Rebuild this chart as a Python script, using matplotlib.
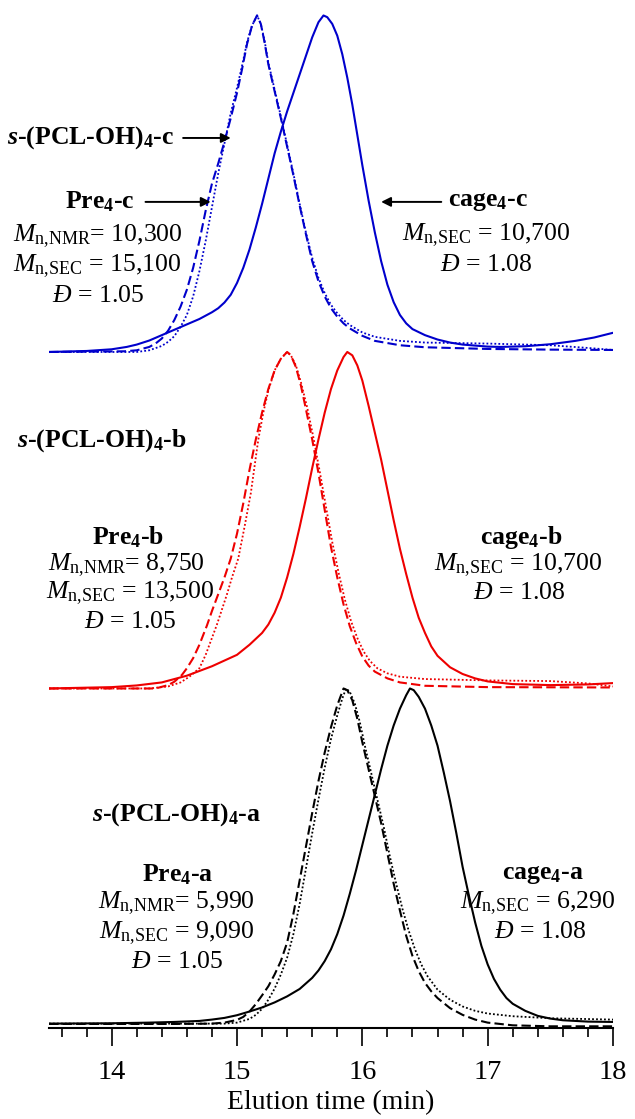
import matplotlib
matplotlib.use("Agg")
import matplotlib.pyplot as plt
from matplotlib.ticker import MultipleLocator

plt.rcParams['font.family'] = ['Liberation Serif', 'DejaVu Serif']
plt.rcParams['mathtext.fontset'] = 'custom'
plt.rcParams['mathtext.rm'] = 'Liberation Serif'
plt.rcParams['mathtext.it'] = 'Liberation Serif:italic'
plt.rcParams['mathtext.bf'] = 'Liberation Serif:bold'
plt.rcParams['mathtext.bfit'] = 'Liberation Serif:italic:bold'

# ---- trace a (black), baseline 0 ----
t_a_cage = [13.5, 14.0, 14.3, 14.5, 14.7, 14.8, 14.9, 15.0, 15.1, 15.2, 15.3, 15.4, 15.5, 15.6,
            15.65, 15.7, 15.75, 15.8, 15.85, 15.9, 15.95, 16.0, 16.05, 16.1, 16.15, 16.2, 16.25,
            16.3, 16.35, 16.38, 16.41, 16.45, 16.5, 16.55, 16.6, 16.65, 16.7, 16.75, 16.8, 16.85,
            16.9, 16.95, 17.0, 17.05, 17.1, 17.15, 17.2, 17.3, 17.4, 17.5, 17.6, 17.8, 18.0]
i_a_cage = [0.004, 0.005, 0.007, 0.009, 0.012, 0.016, 0.021, 0.029, 0.040, 0.052, 0.067, 0.085,
            0.107, 0.140, 0.162, 0.19, 0.225, 0.27, 0.325, 0.39, 0.46, 0.535, 0.61, 0.685, 0.76,
            0.83, 0.89, 0.94, 0.98, 1.0, 0.995, 0.975, 0.94, 0.89, 0.83, 0.75, 0.665, 0.57, 0.47,
            0.385, 0.305, 0.235, 0.18, 0.137, 0.105, 0.08, 0.063, 0.042, 0.027, 0.019, 0.014,
            0.010, 0.009]
t_a_star = [13.5, 14.5, 14.8, 14.9, 15.0, 15.05, 15.1, 15.15, 15.2, 15.25, 15.3, 15.35, 15.4,
            15.45, 15.5, 15.55, 15.6, 15.65, 15.7, 15.75, 15.8, 15.85, 15.88, 15.92, 15.96, 16.0,
            16.05, 16.1, 16.15, 16.2, 16.25, 16.3, 16.35, 16.4, 16.45, 16.5, 16.55, 16.6, 16.7,
            16.8, 16.9, 17.0, 17.2, 17.5, 18.0]
i_a_star = [0.003, 0.003, 0.004, 0.007, 0.015, 0.024, 0.040, 0.062, 0.088, 0.115, 0.15, 0.19,
            0.245, 0.33, 0.43, 0.53, 0.63, 0.725, 0.81, 0.885, 0.95, 1.0, 0.995, 0.965, 0.91,
            0.84, 0.76, 0.68, 0.60, 0.51, 0.42, 0.34, 0.265, 0.205, 0.16, 0.125, 0.10, 0.08,
            0.05, 0.03, 0.016, 0.007, -0.001, -0.004, -0.004]
t_a_pre = [13.5, 14.9, 15.0, 15.1, 15.15, 15.2, 15.25, 15.3, 15.35, 15.4, 15.45, 15.5, 15.55,
           15.6, 15.65, 15.7, 15.75, 15.8, 15.84, 15.87, 15.9, 15.94, 15.98, 16.02, 16.07, 16.12,
           16.17, 16.22, 16.27, 16.32, 16.37, 16.42, 16.47, 16.52, 16.6, 16.7, 16.8, 16.9, 17.0,
           17.2, 17.5, 18.0]
i_a_pre = [0.004, 0.004, 0.007, 0.018, 0.03, 0.048, 0.075, 0.108, 0.15, 0.2, 0.27, 0.36, 0.465,
           0.57, 0.67, 0.765, 0.85, 0.92, 0.97, 1.0, 0.99, 0.955, 0.9, 0.83, 0.75, 0.67, 0.59,
           0.5, 0.42, 0.345, 0.28, 0.225, 0.18, 0.145, 0.105, 0.075, 0.055, 0.042, 0.034,
           0.026, 0.02, 0.016]

# ---- trace b (red), baseline 1 ----
t_b_cage = [13.5, 14.0, 14.2, 14.4, 14.6, 14.8, 14.9, 15.0, 15.1, 15.2, 15.25, 15.3, 15.35,
            15.4, 15.45, 15.5, 15.55, 15.6, 15.65, 15.7, 15.75, 15.8, 15.85, 15.88, 15.92, 15.96,
            16.0, 16.05, 16.1, 16.15, 16.2, 16.25, 16.3, 16.35, 16.4, 16.45, 16.5, 16.55, 16.6,
            16.7, 16.8, 16.9, 17.0, 17.2, 17.5, 17.8, 18.0]
i_b_cage = [0.0, 0.004, 0.009, 0.018, 0.038, 0.066, 0.083, 0.10, 0.13, 0.165, 0.19, 0.225,
            0.27, 0.33, 0.40, 0.48, 0.565, 0.655, 0.74, 0.82, 0.89, 0.945, 0.985, 1.0, 0.99,
            0.96, 0.915, 0.84, 0.76, 0.68, 0.59, 0.50, 0.415, 0.34, 0.27, 0.21, 0.165, 0.125,
            0.097, 0.063, 0.043, 0.03, 0.021, 0.013, 0.01, 0.012, 0.016]
t_b_star = [13.5, 14.35, 14.45, 14.5, 14.56, 14.6, 14.65, 14.7, 14.76, 14.8, 14.85, 14.9, 14.95,
            15.0, 15.05, 15.1, 15.15, 15.2, 15.25, 15.3, 15.35, 15.4, 15.43, 15.47, 15.51, 15.55,
            15.6, 15.65, 15.7, 15.75, 15.8, 15.85, 15.9, 15.95, 16.0, 16.05, 16.1, 16.2, 16.3,
            16.5, 17.0, 18.0]
i_b_star = [0.0, 0.0, 0.01, 0.02, 0.04, 0.06, 0.09, 0.13, 0.187, 0.23, 0.28, 0.33, 0.386, 0.46,
            0.55, 0.65, 0.74, 0.82, 0.89, 0.945, 0.98, 1.0, 0.99, 0.955, 0.9, 0.83, 0.74, 0.64,
            0.53, 0.42, 0.33, 0.25, 0.185, 0.135, 0.095, 0.068, 0.05, 0.03, 0.018, 0.008, 0.004,
            0.003]
t_b_pre = [13.5, 14.3, 14.45, 14.55, 14.62, 14.7, 14.75, 14.8, 14.84, 14.88, 14.92, 14.96,
           15.01, 15.06, 15.11, 15.17, 15.21, 15.25, 15.3, 15.35, 15.4, 15.43, 15.47, 15.51,
           15.56, 15.61, 15.66, 15.71, 15.76, 15.81, 15.86, 15.91, 15.96, 16.01, 16.06, 16.12,
           16.2, 16.3, 16.5, 17.0, 17.5, 17.8, 18.0]
i_b_pre = [0.0, 0.0, 0.006, 0.018, 0.035, 0.06, 0.10, 0.15, 0.19, 0.235, 0.28, 0.33, 0.386,
           0.48, 0.58, 0.74, 0.82, 0.885, 0.945, 0.98, 1.0, 0.99, 0.96, 0.91, 0.835, 0.745,
           0.645, 0.54, 0.435, 0.345, 0.265, 0.20, 0.15, 0.11, 0.082, 0.06, 0.045, 0.035, 0.028,
           0.024, 0.022, 0.015, 0.006]

# ---- trace c (blue), baseline 2 ----
t_c_cage = [13.5, 13.8, 14.0, 14.12, 14.2, 14.3, 14.4, 14.5, 14.6, 14.7, 14.8, 14.85, 14.9,
            14.95, 15.0, 15.05, 15.1, 15.15, 15.2, 15.25, 15.3, 15.35, 15.4, 15.45, 15.5, 15.55,
            15.6, 15.65, 15.69, 15.72, 15.76, 15.8, 15.84, 15.88, 15.92, 15.96, 16.0, 16.05,
            16.1, 16.15, 16.2, 16.25, 16.3, 16.35, 16.4, 16.5, 16.6, 16.7, 16.8, 17.0, 17.1,
            17.3, 17.5, 17.7, 17.85, 18.0]
i_c_cage = [0.0, 0.003, 0.008, 0.015, 0.022, 0.034, 0.05, 0.066, 0.082, 0.098, 0.118, 0.13,
            0.147, 0.17, 0.205, 0.25, 0.305, 0.37, 0.44, 0.515, 0.59, 0.655, 0.715, 0.77, 0.825,
            0.88, 0.935, 0.98, 1.0, 0.995, 0.975, 0.94, 0.885, 0.815, 0.735, 0.645, 0.555, 0.45,
            0.355, 0.27, 0.20, 0.148, 0.11, 0.085, 0.068, 0.05, 0.037, 0.028, 0.022, 0.016,
            0.015, 0.017, 0.023, 0.033, 0.043, 0.057]
t_c_star = [13.5, 14.1, 14.2, 14.3, 14.35, 14.4, 14.45, 14.5, 14.55, 14.6, 14.65, 14.7, 14.75,
            14.8, 14.85, 14.9, 14.95, 15.0, 15.04, 15.08, 15.12, 15.16, 15.19, 15.22, 15.25,
            15.3, 15.35, 15.4, 15.45, 15.5, 15.55, 15.6, 15.65, 15.7, 15.75, 15.8, 15.85, 15.9,
            16.0, 16.1, 16.3, 16.5, 17.0, 17.5, 18.0]
i_c_star = [0.0, 0.002, 0.005, 0.015, 0.025, 0.04, 0.063, 0.095, 0.135, 0.185, 0.25, 0.33,
            0.42, 0.50, 0.56, 0.625, 0.695, 0.77, 0.84, 0.915, 0.97, 1.0, 0.975, 0.92, 0.855,
            0.775, 0.695, 0.61, 0.525, 0.435, 0.35, 0.27, 0.21, 0.165, 0.13, 0.105, 0.085, 0.07,
            0.048, 0.033, 0.02, 0.014, 0.009, 0.007, 0.006]
t_c_pre = [13.5, 14.2, 14.3, 14.4, 14.45, 14.5, 14.55, 14.6, 14.65, 14.7, 14.75, 14.8, 14.85,
           14.9, 14.95, 15.0, 15.04, 15.08, 15.12, 15.16, 15.19, 15.22, 15.25, 15.3, 15.35,
           15.4, 15.45, 15.5, 15.55, 15.6, 15.65, 15.7, 15.75, 15.8, 15.85, 15.9, 16.0, 16.1,
           16.3, 16.5, 17.0, 17.5, 17.8, 18.0]
i_c_pre = [0.0, 0.0, 0.005, 0.018, 0.03, 0.047, 0.075, 0.11, 0.165, 0.24, 0.33, 0.43, 0.53,
           0.62, 0.71, 0.785, 0.85, 0.92, 0.97, 1.0, 0.975, 0.925, 0.86, 0.78, 0.70, 0.615,
           0.53, 0.44, 0.355, 0.28, 0.22, 0.175, 0.14, 0.115, 0.095, 0.08, 0.058, 0.045, 0.033,
           0.028, 0.025, 0.02, 0.012, 0.006]

BLUE = '#0000cc'
RED = '#ee0000'
BLACK = '#000000'

fig = plt.figure(figsize=(6.35, 11.19), dpi=100)
ax = fig.add_axes([49 / 635, 91 / 1119, 564 / 635, 1028 / 1119])

traces = [
    (2, BLUE, t_c_cage, i_c_cage, t_c_star, i_c_star, t_c_pre, i_c_pre),
    (1, RED, t_b_cage, i_b_cage, t_b_star, i_b_star, t_b_pre, i_b_pre),
    (0, BLACK, t_a_cage, i_a_cage, t_a_star, i_a_star, t_a_pre, i_a_pre),
]
for off, col, tc, ic, ts, is_, tp, ip in traces:
    ax.plot(tc, [v + off for v in ic], color=col, lw=1.5, solid_joinstyle='round')
    ax.plot(ts, [v + off for v in is_], color=col, lw=1.5, linestyle=(0, (4.5, 2)))
    ax.plot(tp, [v + off for v in ip], color=col, lw=1.3, linestyle=(0, (1, 1.2)))

ax.set_xlim(13.5, 18.0)
ax.set_ylim(-0.009, 3.046)
for s in ['left', 'right', 'top']:
    ax.spines[s].set_visible(False)
ax.spines['bottom'].set_linewidth(1.5)
ax.set_yticks([])
ax.xaxis.set_major_locator(MultipleLocator(1))
ax.xaxis.set_minor_locator(MultipleLocator(0.2))
ax.tick_params(axis='x', which='major', length=13, width=1.2, labelsize=20.5, pad=10)
ax.tick_params(axis='x', which='minor', length=6.5, width=1.2)
ax.set_xlabel('Elution time (min)', fontsize=20, labelpad=4)

fs = 18.5
bold = dict(fontsize=fs, fontweight='bold', ha='center', va='center', clip_on=False)
norm = dict(fontsize=fs, ha='center', va='center', clip_on=False)
arrow = dict(arrowstyle='-|>', color='black', lw=1.4, mutation_scale=14, shrinkA=0, shrinkB=0)

NMR = r'$M_{\text{n,NMR}}$'
SEC = r'$M_{\text{n,SEC}}$'
DISP = r'$\mathit{Đ}$'

# blue labels
ax.text(13.83, 2.636, r'$\mathbfit{s}$-(PCL-OH)$_{\mathbf{4}}$-c', **bold)
ax.annotate('', xy=(14.95, 2.636), xytext=(14.57, 2.636), arrowprops=arrow)
ax.text(13.91, 2.446, r'Pre$_{\mathbf{4}}$-c', **bold)
ax.annotate('', xy=(14.79, 2.446), xytext=(14.27, 2.446), arrowprops=arrow)
ax.text(13.89, 2.345, NMR + '= 10,300', **norm)
ax.text(13.88, 2.256, SEC + ' = 15,100', **norm)
ax.text(13.89, 2.166, DISP + ' = 1.05', **norm)
ax.text(17.0, 2.446, r'cage$_{\mathbf{4}}$-c', **bold)
ax.annotate('', xy=(16.15, 2.446), xytext=(16.63, 2.446), arrowprops=arrow)
ax.text(16.99, 2.348, SEC + ' = 10,700', **norm)
ax.text(16.99, 2.259, DISP + ' = 1.08', **norm)

# red labels
ax.text(13.92, 1.738, r'$\mathbfit{s}$-(PCL-OH)$_{\mathbf{4}}$-b', **bold)
ax.text(14.13, 1.450, r'Pre$_{\mathbf{4}}$-b', **bold)
ax.text(14.12, 1.367, NMR + '= 8,750', **norm)
ax.text(14.15, 1.284, SEC + ' = 13,500', **norm)
ax.text(14.15, 1.198, DISP + ' = 1.05', **norm)
ax.text(17.27, 1.450, r'cage$_{\mathbf{4}}$-b', **bold)
ax.text(17.24, 1.367, SEC + ' = 10,700', **norm)
ax.text(17.25, 1.284, DISP + ' = 1.08', **norm)

# black labels
ax.text(14.52, 0.624, r'$\mathbfit{s}$-(PCL-OH)$_{\mathbf{4}}$-a', **bold)
ax.text(14.53, 0.446, r'Pre$_{\mathbf{4}}$-a', **bold)
ax.text(14.52, 0.363, NMR + '= 5,990', **norm)
ax.text(14.52, 0.273, SEC + ' = 9,090', **norm)
ax.text(14.52, 0.187, DISP + ' = 1.05', **norm)
ax.text(17.44, 0.446, r'cage$_{\mathbf{4}}$-a', **bold)
ax.text(17.40, 0.363, SEC + ' = 6,290', **norm)
ax.text(17.42, 0.276, DISP + ' = 1.08', **norm)

fig.savefig('out.png', dpi=100)
